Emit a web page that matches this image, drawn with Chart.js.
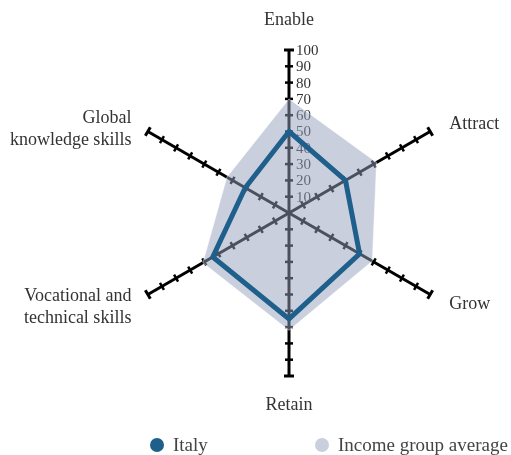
<!DOCTYPE html>
<html>
<head>
<meta charset="utf-8">
<script src="https://cdn.jsdelivr.net/npm/chart.js@4/dist/chart.umd.min.js"></script>
<style>
  body { margin: 0; background: #fff; }
  #wrap { position: relative; width: 511px; height: 455px; }
  #legend { position: absolute; left: 0; top: 434px; width: 511px; height: 22px;
            font-family: "Liberation Serif", serif; font-size: 19px; color: #444; }
  .item { position: absolute; top: 0; white-space: nowrap; line-height: 22px; }
  .dot { display: inline-block; width: 14px; height: 14px; border-radius: 50%;
         vertical-align: -1px; margin-right: 9px; }
</style>
</head>
<body>
<div id="wrap">
  <canvas id="radarChart" width="511" height="455"></canvas>
  <div id="legend"></div>
</div>
<script>
// ---- data ----
const pillars = ['Enable', 'Attract', 'Grow', 'Retain', ['Vocational and', 'technical skills'], ['Global', 'knowledge skills']];
const italyValues = [50, 40, 50, 65, 54, 31];
const incomeGroupValues = [70, 62, 59, 72, 61, 44];
const tickValues = [10, 20, 30, 40, 50, 60, 70, 80, 90, 100];
const seriesNames = ['Italy', 'Income group average'];

// ---- look ----
const FONT = '"Liberation Serif", serif';
const italyColor = '#1f5f8b';
const incomeFill = 'rgba(150,160,190,0.5)';
const incomeSwatch = 'rgb(202,207,221)';
const legendX = [150, 315];

// label placement around the web (distance past 100, alignment, vertical nudge)
const labelPad = [30, 22, 22, 29, 19, 19];
const labelAlign = ['center', 'left', 'left', 'center', 'right', 'right'];
const labelDy = [0, 4, -1, 0, 3, 7];

// axis ticks + tick labels, drawn under the datasets so the fill covers them
const axisTicksPlugin = {
  id: 'axisTicks',
  beforeDatasetsDraw(chart) {
    const ctx = chart.ctx;
    const scale = chart.scales.r;
    ctx.save();
    ctx.strokeStyle = '#000';
    for (let i = 0; i < pillars.length; i++) {
      const a = scale.getIndexAngle(i) - Math.PI / 2;
      const px = -Math.sin(a), py = Math.cos(a);
      tickValues.forEach((v) => {
        const p = scale.getPointPositionForValue(i, v);
        const h = v === 100 ? 5 : 4;
        ctx.lineWidth = v === 100 ? 3 : 2.5;
        ctx.beginPath();
        ctx.moveTo(p.x - px * h, p.y - py * h);
        ctx.lineTo(p.x + px * h, p.y + py * h);
        ctx.stroke();
      });
    }
    ctx.fillStyle = '#333';
    ctx.font = '15px ' + FONT;
    ctx.textAlign = 'left';
    ctx.textBaseline = 'middle';
    tickValues.forEach((v) => {
      const p = scale.getPointPositionForValue(0, v);
      ctx.fillText(String(v), p.x + 7, p.y + 1);
    });
    ctx.restore();
  },
  afterDraw(chart) {
    const ctx = chart.ctx;
    const scale = chart.scales.r;
    ctx.save();
    ctx.fillStyle = '#333';
    ctx.font = '18px ' + FONT;
    ctx.textBaseline = 'middle';
    pillars.forEach((lbl, i) => {
      const lines = Array.isArray(lbl) ? lbl : [lbl];
      const p = scale.getPointPosition(i, scale.drawingArea + labelPad[i]);
      const lh = 22;
      const y0 = p.y + labelDy[i] - (lines.length - 1) * lh / 2;
      ctx.textAlign = labelAlign[i];
      lines.forEach((t, k) => ctx.fillText(t, p.x, y0 + k * lh));
    });
    ctx.restore();
  }
};

const ctx = document.getElementById('radarChart').getContext('2d');
const radarChart = new Chart(ctx, {
  type: 'radar',
  data: {
    labels: pillars,
    datasets: [
      {
        label: seriesNames[0],
        data: italyValues,
        borderColor: italyColor,
        borderWidth: 5,
        fill: false,
        pointRadius: 0,
        pointHoverRadius: 0,
      },
      {
        label: seriesNames[1],
        data: incomeGroupValues,
        backgroundColor: incomeFill,
        borderColor: 'rgba(255,255,255,0.45)',
        borderWidth: 1,
        fill: true,
        pointRadius: 0,
        pointHoverRadius: 0,
      },
    ],
  },
  options: {
    responsive: false,
    animation: false,
    elements: { line: { tension: 0, borderJoinStyle: 'miter' } },
    layout: { padding: 0 },
    plugins: {
      legend: { display: false },
      tooltip: { enabled: false },
    },
    scales: {
      r: {
        min: 0,
        max: 100,
        ticks: { display: false, stepSize: 10 },
        grid: { display: false },
        angleLines: { display: true, color: '#000', lineWidth: 3 },
        pointLabels: { display: false },
        // put the web where the reference has it
        afterFit(scale) {
          scale.xCenter = 289;
          scale.yCenter = 213;
          scale.drawingArea = 163;
        },
      },
    },
  },
  plugins: [axisTicksPlugin],
});

// legend as html, built from the datasets
const legendEl = document.getElementById('legend');
radarChart.data.datasets.forEach((ds, i) => {
  const item = document.createElement('div');
  item.className = 'item';
  item.style.left = legendX[i] + 'px';
  const dot = document.createElement('span');
  dot.className = 'dot';
  dot.style.background = i === 0 ? italyColor : incomeSwatch;
  item.appendChild(dot);
  item.appendChild(document.createTextNode(ds.label));
  legendEl.appendChild(item);
});
</script>
</body>
</html>
